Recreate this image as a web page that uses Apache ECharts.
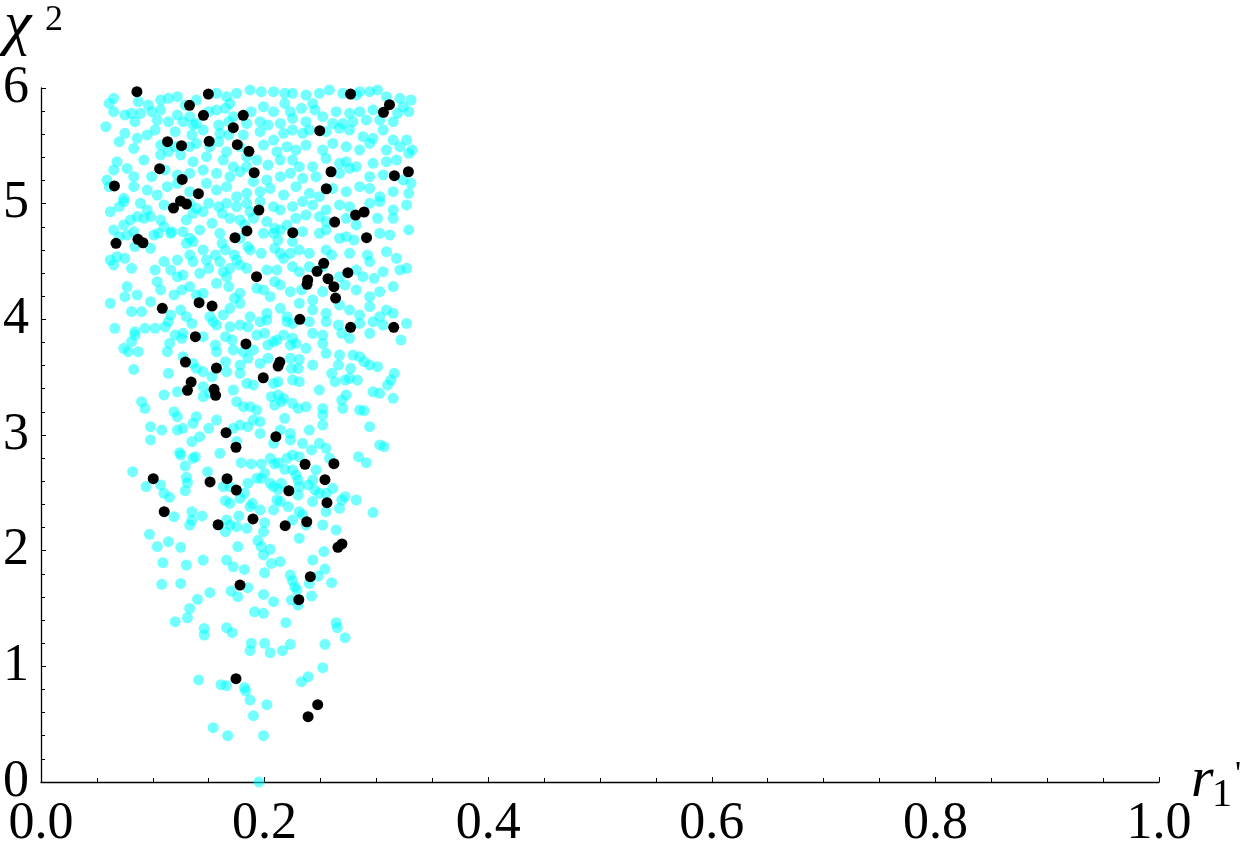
<!DOCTYPE html>
<html>
<head>
<meta charset="utf-8">
<script src="https://cdn.jsdelivr.net/npm/echarts@6/dist/echarts.min.js"></script>
<style>
  html, body { margin: 0; padding: 0; background: #fff; }
  #chart { width: 1250px; height: 853px; }
</style>
</head>
<body>
<div id="chart"></div>
<script>
// axis ranges and tick steps
const xRange = [0, 1];
const yRange = [0, 6];
const xStep = 0.2;
const yStep = 1;

// cyan points (x = r1', y = chi^2)
const cyanBand6to5 = [
  [0.065,5.911],[0.061,5.867],[0.087,5.882],[0.096,5.853],[0.107,5.896],[0.114,5.911],[0.122,5.925],[0.129,5.853],[0.139,5.896],[0.157,5.954],[0.166,5.925],[0.169,5.867],[0.175,5.954],[0.187,5.983],[0.197,5.968],[0.208,5.968],[0.218,5.954],[0.225,5.954],[0.237,5.939],[0.243,5.867],[0.249,5.954],[0.258,5.983],[0.270,5.954],[0.282,5.939],[0.285,5.968],[0.294,5.968],[0.301,5.983],[0.309,5.925],[0.321,5.911],[0.331,5.896],[0.324,5.838],
  [0.065,5.795],[0.075,5.766],[0.081,5.781],[0.089,5.781],[0.099,5.795],[0.107,5.810],[0.122,5.766],[0.133,5.752],[0.150,5.795],[0.157,5.810],[0.165,5.824],[0.172,5.752],[0.188,5.795],[0.199,5.838],[0.208,5.795],[0.218,5.867],[0.223,5.795],[0.233,5.824],[0.245,5.810],[0.252,5.752],[0.264,5.795],[0.276,5.781],[0.285,5.795],[0.291,5.723],[0.297,5.810],[0.319,5.781],[0.329,5.795],
  [0.058,5.666],[0.084,5.709],[0.104,5.723],[0.114,5.709],[0.127,5.709],[0.139,5.694],[0.159,5.680],[0.168,5.709],[0.184,5.694],[0.196,5.709],[0.203,5.680],[0.214,5.694],[0.225,5.738],[0.237,5.709],[0.261,5.694],[0.270,5.694],[0.279,5.709],[0.303,5.723],[0.315,5.709],
  [0.075,5.608],[0.070,5.536],[0.083,5.478],[0.095,5.594],[0.102,5.637],[0.120,5.622],[0.136,5.680],[0.135,5.594],[0.145,5.637],[0.160,5.608],[0.168,5.594],[0.181,5.594],[0.196,5.622],[0.208,5.550],[0.217,5.608],[0.225,5.637],[0.234,5.608],[0.240,5.637],[0.255,5.622],[0.267,5.651],[0.276,5.637],[0.288,5.579],[0.297,5.565],[0.306,5.637],[0.315,5.550],[0.327,5.550],[0.321,5.493],[0.332,5.464],
  [0.086,5.565],[0.107,5.507],[0.114,5.449],[0.120,5.493],[0.133,5.493],[0.139,5.521],[0.151,5.493],[0.159,5.536],[0.166,5.449],[0.178,5.493],[0.184,5.406],[0.199,5.507],[0.211,5.449],[0.220,5.493],[0.228,5.464],[0.237,5.507],[0.252,5.464],[0.261,5.521],[0.273,5.493],[0.285,5.464],[0.294,5.521],[0.309,5.464],
  [0.068,5.363],[0.065,5.291],[0.077,5.305],[0.092,5.377],[0.107,5.421],[0.125,5.421],[0.136,5.363],[0.148,5.406],[0.163,5.377],[0.172,5.320],[0.184,5.320],[0.193,5.377],[0.203,5.334],[0.214,5.377],[0.225,5.377],[0.231,5.320],[0.243,5.320],[0.255,5.392],[0.267,5.349],[0.273,5.363],[0.282,5.320],[0.297,5.349],[0.309,5.363],[0.318,5.377],[0.329,5.435],
  [0.059,5.205],[0.083,5.233],[0.099,5.233],[0.111,5.291],[0.122,5.248],[0.133,5.262],[0.145,5.291],[0.157,5.262],[0.169,5.233],[0.178,5.277],[0.190,5.190],[0.202,5.205],[0.214,5.233],[0.223,5.262],[0.234,5.219],[0.246,5.233],[0.267,5.262],[0.276,5.305],[0.294,5.233],[0.306,5.248],[0.324,5.205],[0.331,5.176],
  [0.061,5.147],[0.074,5.046],[0.083,5.147],[0.095,5.118],[0.104,5.075],[0.113,5.147],[0.122,5.176],[0.133,5.104],[0.148,5.176],[0.157,5.118],[0.166,5.147],[0.175,5.060],[0.184,5.089],[0.196,5.104],[0.205,5.132],[0.217,5.075],[0.228,5.147],[0.240,5.089],[0.249,5.060],[0.261,5.132],[0.273,5.104],[0.285,5.147],[0.294,5.132],[0.303,5.060],[0.315,5.104],[0.329,5.089]
];

const cyanBand5to4 = [
  [0.062,4.931],[0.070,4.974],[0.074,5.018],[0.089,5.003],[0.095,4.946],[0.110,4.989],[0.133,5.003],[0.139,4.960],[0.145,4.931],[0.150,5.003],[0.159,4.974],[0.166,5.003],[0.175,4.974],[0.184,5.003],[0.187,4.931],[0.196,5.018],[0.208,4.974],[0.214,4.946],[0.225,4.974],[0.234,5.018],[0.243,4.989],[0.255,4.946],[0.267,4.989],[0.276,4.974],[0.294,5.003],[0.303,5.018],[0.315,4.946],[0.327,4.989],
  [0.065,4.773],[0.074,4.816],[0.080,4.859],[0.086,4.888],[0.092,4.874],[0.098,4.888],[0.107,4.859],[0.110,4.801],[0.117,4.758],[0.130,4.859],[0.136,4.917],[0.153,4.830],[0.162,4.917],[0.169,4.874],[0.178,4.859],[0.182,4.816],[0.190,4.874],[0.202,4.845],[0.209,4.787],[0.214,4.773],[0.220,4.816],[0.228,4.874],[0.237,4.902],[0.249,4.888],[0.255,4.845],[0.273,4.874],[0.282,4.816],[0.301,4.874],[0.315,4.874],[0.329,4.773],
  [0.070,4.715],[0.077,4.729],[0.083,4.758],[0.101,4.729],[0.105,4.744],[0.116,4.744],[0.127,4.758],[0.136,4.672],[0.130,4.657],[0.133,4.701],[0.142,4.773],[0.160,4.744],[0.162,4.657],[0.178,4.701],[0.185,4.629],[0.199,4.744],[0.208,4.744],[0.212,4.686],[0.225,4.672],[0.234,4.758],[0.249,4.744],[0.255,4.773],[0.267,4.701],[0.273,4.715],[0.280,4.686],[0.303,4.744],[0.312,4.729],
  [0.062,4.513],[0.068,4.542],[0.065,4.470],[0.075,4.528],[0.084,4.629],[0.098,4.614],[0.110,4.499],[0.122,4.513],[0.133,4.557],[0.136,4.499],[0.145,4.600],[0.148,4.513],[0.156,4.557],[0.160,4.499],[0.165,4.600],[0.173,4.557],[0.175,4.513],[0.187,4.600],[0.197,4.571],[0.209,4.614],[0.214,4.571],[0.217,4.528],[0.223,4.571],[0.231,4.600],[0.240,4.571],[0.255,4.600],[0.260,4.557],[0.276,4.571],[0.292,4.557],[0.294,4.499],[0.309,4.585],[0.318,4.528],[0.327,4.441],
  [0.081,4.441],[0.102,4.427],[0.116,4.427],[0.122,4.369],[0.127,4.384],[0.142,4.398],[0.150,4.441],[0.163,4.412],[0.169,4.441],[0.166,4.369],[0.178,4.470],[0.184,4.441],[0.202,4.427],[0.211,4.427],[0.225,4.456],[0.231,4.412],[0.240,4.456],[0.252,4.456],[0.267,4.369],[0.282,4.427],[0.288,4.369],[0.298,4.355],[0.306,4.412],[0.321,4.427],
  [0.077,4.283],[0.075,4.196],[0.086,4.211],[0.104,4.326],[0.107,4.254],[0.119,4.211],[0.126,4.254],[0.133,4.283],[0.139,4.211],[0.145,4.225],[0.157,4.312],[0.168,4.283],[0.173,4.182],[0.178,4.225],[0.193,4.268],[0.199,4.254],[0.205,4.196],[0.209,4.326],[0.214,4.297],[0.223,4.239],[0.233,4.254],[0.243,4.167],[0.252,4.239],[0.272,4.297],[0.282,4.254],[0.294,4.196],[0.303,4.239],[0.315,4.283],
  [0.062,4.139],[0.081,4.067],[0.090,4.067],[0.098,4.153],[0.116,4.038],[0.125,4.081],[0.130,4.023],[0.151,4.023],[0.163,4.038],[0.169,4.095],[0.178,4.139],[0.187,4.023],[0.202,4.052],[0.214,4.095],[0.220,4.023],[0.231,4.139],[0.243,4.081],[0.255,4.052],[0.267,4.124],[0.276,4.081],[0.285,4.038],[0.294,4.110],[0.303,4.023],[0.309,4.081],[0.315,4.052]
];

const cyanBand4to3 = [
  [0.066,3.922],[0.084,3.893],[0.093,3.922],[0.102,3.922],[0.111,3.936],[0.114,3.980],[0.135,3.965],[0.154,3.980],[0.157,3.951],[0.169,3.936],[0.178,3.951],[0.185,3.936],[0.196,3.980],[0.202,3.994],[0.220,3.980],[0.225,3.965],[0.240,3.980],[0.255,3.980],[0.266,3.951],[0.285,3.965],[0.297,3.980],[0.306,3.951],[0.327,3.965],
  [0.084,3.864],[0.120,3.864],[0.127,3.879],[0.145,3.850],[0.165,3.850],[0.171,3.821],[0.156,3.778],[0.193,3.864],[0.200,3.879],[0.217,3.864],[0.211,3.821],[0.225,3.836],[0.243,3.879],[0.252,3.864],[0.269,3.879],[0.276,3.836],[0.294,3.879],[0.322,3.821],[0.081,3.807],[0.115,3.792],[0.126,3.836],
  [0.074,3.749],[0.078,3.720],[0.087,3.720],[0.157,3.720],[0.172,3.735],[0.181,3.720],[0.190,3.735],[0.203,3.778],[0.208,3.807],[0.223,3.778],[0.228,3.792],[0.237,3.749],[0.252,3.792],[0.255,3.706],[0.267,3.691],[0.279,3.691],[0.285,3.677],[0.289,3.634],[0.113,3.720],[0.127,3.677],[0.136,3.619],
  [0.083,3.567],[0.114,3.533],[0.139,3.576],[0.145,3.547],[0.153,3.504],[0.165,3.634],[0.166,3.547],[0.178,3.605],[0.185,3.663],[0.196,3.619],[0.203,3.663],[0.223,3.663],[0.231,3.654],[0.224,3.576],[0.230,3.576],[0.243,3.605],[0.266,3.605],[0.277,3.576],[0.294,3.605],[0.301,3.591],[0.316,3.533],
  [0.178,3.533],[0.184,3.446],[0.190,3.432],[0.208,3.446],[0.212,3.461],[0.225,3.475],[0.231,3.461],[0.260,3.533],[0.263,3.461],[0.272,3.475],[0.276,3.490],[0.283,3.475],[0.313,3.475],[0.310,3.432],[0.172,3.389],[0.145,3.418],[0.122,3.374],[0.110,3.346],
  [0.090,3.288],[0.093,3.230],[0.151,3.360],[0.145,3.331],[0.175,3.288],[0.181,3.245],[0.187,3.245],[0.206,3.331],[0.212,3.346],[0.217,3.317],[0.209,3.259],[0.215,3.288],[0.225,3.274],[0.230,3.230],[0.249,3.389],[0.252,3.230],[0.269,3.302],[0.273,3.346],[0.285,3.216],[0.289,3.210],[0.297,3.374],[0.303,3.360],[0.315,3.317],
  [0.119,3.201],[0.122,3.158],[0.139,3.158],[0.136,3.101],[0.157,3.129],[0.193,3.216],[0.190,3.129],[0.196,3.115],[0.218,3.144],[0.237,3.245],[0.252,3.173],[0.270,3.230],
  [0.098,3.072],[0.108,3.043],[0.122,3.043],[0.127,3.058],[0.142,2.985],[0.150,3.058],[0.172,3.058],[0.178,3.086],[0.185,3.072],[0.196,3.014],[0.214,3.043],[0.223,3.014],[0.240,3.043],[0.252,3.086],[0.294,3.072]
];

const cyanBand3to2 = [
  [0.098,2.957],[0.135,2.943],[0.175,2.943],[0.208,2.928],[0.223,2.957],[0.234,2.928],[0.249,2.928],[0.303,2.914],[0.307,2.899],
  [0.124,2.847],[0.125,2.827],[0.136,2.798],[0.138,2.813],[0.160,2.842],[0.179,2.761],[0.188,2.750],[0.197,2.750],[0.205,2.798],[0.209,2.750],[0.212,2.761],[0.220,2.798],[0.225,2.827],[0.231,2.813],[0.242,2.871],[0.255,2.885],[0.258,2.798],[0.246,2.698],[0.284,2.813],[0.291,2.761],
  [0.082,2.683],[0.129,2.732],[0.130,2.634],[0.131,2.588],[0.129,2.519],[0.149,2.683],[0.163,2.554],[0.094,2.554],[0.107,2.568],[0.110,2.496],[0.115,2.461],[0.169,2.554],[0.165,2.432],[0.169,2.409],[0.178,2.453],[0.182,2.496],[0.185,2.582],[0.187,2.381],[0.189,2.409],[0.193,2.626],[0.197,2.626],[0.200,2.669],[0.205,2.582],[0.208,2.554],[0.212,2.530],[0.215,2.582],[0.218,2.703],[0.225,2.698],[0.228,2.654],[0.230,2.611],[0.231,2.554],[0.230,2.481],[0.239,2.568],[0.243,2.611],[0.245,2.525],[0.243,2.424],
  [0.249,2.496],[0.255,2.496],[0.261,2.539],[0.269,2.438],[0.272,2.467],[0.282,2.438],[0.267,2.366],[0.255,2.337],[0.297,2.329],[0.211,2.438],[0.214,2.424],[0.221,2.381],[0.208,2.352],[0.196,2.352],[0.177,2.300],[0.135,2.337],[0.135,2.265],[0.133,2.222],[0.144,2.300],[0.119,2.294],
  [0.166,2.265],[0.169,2.222],[0.165,2.164],[0.175,2.208],[0.184,2.193],[0.200,2.242],[0.199,2.164],[0.225,2.265],[0.231,2.337],[0.234,2.309],[0.237,2.222],[0.252,2.222],[0.264,2.179],
  [0.097,2.141],[0.114,2.078],[0.104,2.035],[0.125,2.029],[0.176,2.035],[0.194,2.087],[0.197,2.035],[0.205,2.012],[0.231,2.107],[0.253,1.992],[0.199,1.963]
];

const cyanBand2to0 = [
  [0.109,1.896],[0.130,1.876],[0.145,1.919],[0.166,1.919],[0.172,1.861],[0.182,1.838],[0.200,1.809],[0.206,1.890],[0.214,1.905],[0.223,1.789],[0.225,1.740],[0.227,1.688],[0.229,1.660],[0.224,1.573],[0.230,1.530],[0.240,1.717],[0.242,1.608],[0.248,1.781],[0.254,1.841],[0.260,1.723],[0.243,1.919],
  [0.108,1.709],[0.125,1.717],[0.151,1.637],[0.140,1.579],[0.133,1.501],[0.120,1.386],[0.131,1.420],[0.146,1.328],[0.146,1.271],[0.166,1.334],[0.171,1.291],[0.170,1.651],[0.176,1.602],[0.185,1.680],[0.199,1.622],[0.208,1.559],[0.191,1.472],[0.199,1.458],[0.219,1.377],
  [0.188,1.199],[0.187,1.135],[0.200,1.199],[0.205,1.118],[0.216,1.135],[0.223,1.190],[0.254,1.190],[0.264,1.377],[0.265,1.334],[0.272,1.248],[0.252,0.988],
  [0.141,0.882],[0.161,0.841],[0.166,0.833],[0.182,0.818],[0.183,0.789],[0.187,0.709],[0.202,0.668],[0.190,0.573],[0.154,0.470],[0.167,0.400],[0.199,0.400],[0.233,0.867],[0.239,0.910],[0.195,0.0]
];

// black points
const blackPoints = [
  [0.0858,5.968],[0.1497,5.948],[0.2769,5.948],[0.1328,5.850],[0.3117,5.856],[0.3063,5.790],[0.1453,5.764],[0.1809,5.764],[0.1720,5.657],[0.2493,5.631],
  [0.1132,5.536],[0.1257,5.501],[0.1504,5.539],[0.1756,5.510],[0.1860,5.453],[0.1061,5.302],[0.1907,5.268],[0.2594,5.276],[0.3161,5.242],[0.3286,5.276],
  [0.0657,5.153],[0.1263,5.210],[0.1408,5.086],[0.2552,5.129],[0.1185,4.962],[0.1248,5.023],[0.1301,4.997],[0.1949,4.945],[0.2627,4.841],[0.2814,4.902],
  [0.2890,4.928],[0.0671,4.657],[0.0867,4.692],[0.0912,4.662],[0.1735,4.706],[0.1842,4.764],[0.2252,4.749],[0.2912,4.706],[0.2529,4.484],[0.2469,4.415],
  [0.2745,4.403],[0.1928,4.369],[0.2386,4.340],[0.2380,4.303],[0.2567,4.351],[0.2620,4.282],[0.2635,4.184],[0.1414,4.144],[0.1530,4.115],[0.1085,4.095],
  [0.2315,4.000],[0.2769,3.931],[0.3155,3.931],[0.1381,3.850],[0.1833,3.787],[0.1292,3.631],[0.1569,3.579],[0.2136,3.631],[0.2121,3.596],[0.1988,3.495],
  [0.1343,3.458],[0.1310,3.386],[0.1548,3.395],[0.1562,3.343],[0.1655,3.020],[0.2101,2.985],[0.1744,2.894],[0.2362,2.747],[0.2620,2.752],[0.1004,2.622],
  [0.1512,2.594],[0.1664,2.622],[0.1747,2.524],[0.2217,2.518],[0.2540,2.614],[0.2558,2.415],[0.1102,2.337],[0.1896,2.274],[0.1584,2.224],[0.2184,2.216],
  [0.2377,2.250],[0.2692,2.058],[0.2656,2.029],[0.2409,1.775],[0.1780,1.703],[0.2306,1.576],[0.1744,0.893],[0.2475,0.668],[0.2389,0.565]
];

const cyanPoints = [].concat(cyanBand6to5, cyanBand5to4, cyanBand4to3, cyanBand3to2, cyanBand2to0);

const serif = 'Liberation Serif';
let myChart = echarts.init(document.getElementById('chart'));

let option = {
    animation: false,
    backgroundColor: '#fff',
    grid: { left: 37, right: 91, top: 88, bottom: 71 },
    xAxis: {
        type: 'value',
        min: xRange[0],
        max: xRange[1],
        interval: xStep,
        axisLine: { show: true, onZero: false, lineStyle: { color: '#000', width: 1.3 } },
        axisTick: { show: true, inside: true, length: 5, lineStyle: { color: '#000', width: 1 } },
        minorTick: { show: true, splitNumber: 4, length: 4, lineStyle: { color: '#000', width: 1 } },
        splitLine: { show: false },
        axisLabel: {
            fontFamily: serif, fontSize: 52, color: '#000', margin: 16,
            formatter: function (v) { return v.toFixed(1); }
        }
    },
    yAxis: {
        type: 'value',
        min: yRange[0],
        max: yRange[1],
        interval: yStep,
        axisLine: { show: true, onZero: false, lineStyle: { color: '#000', width: 1.3 } },
        axisTick: { show: true, inside: true, length: 5, lineStyle: { color: '#000', width: 1 } },
        minorTick: { show: true, splitNumber: 5, length: 4, lineStyle: { color: '#000', width: 1 } },
        splitLine: { show: false },
        axisLabel: { fontFamily: serif, fontSize: 52, color: '#000', margin: 12 }
    },
    graphic: [
        { type: 'text', x: 4, y: -4, style: { text: 'χ', font: 'italic 62px "Liberation Serif"', fill: '#000' } },
        { type: 'text', x: 45, y: 3, style: { text: '2', font: '36px "Liberation Serif"', fill: '#000' } },
        { type: 'text', x: 1191, y: 752, style: { text: 'r', font: 'italic 58px "Liberation Serif"', fill: '#000' } },
        { type: 'text', x: 1212, y: 775, style: { text: '1', font: '40px "Liberation Serif"', fill: '#000' } },
        { type: 'text', x: 1235, y: 758, style: { text: '\'', font: '34px "Liberation Serif"', fill: '#000' } }
    ],
    series: [
        {
            type: 'scatter',
            data: cyanPoints,
            symbolSize: 11,
            silent: true,
            itemStyle: { color: '#00ffff', opacity: 0.55 }
        },
        {
            type: 'scatter',
            data: blackPoints,
            symbolSize: 11,
            silent: true,
            itemStyle: { color: '#000', opacity: 1 }
        }
    ]
};
myChart.setOption(option);
</script>
</body>
</html>
